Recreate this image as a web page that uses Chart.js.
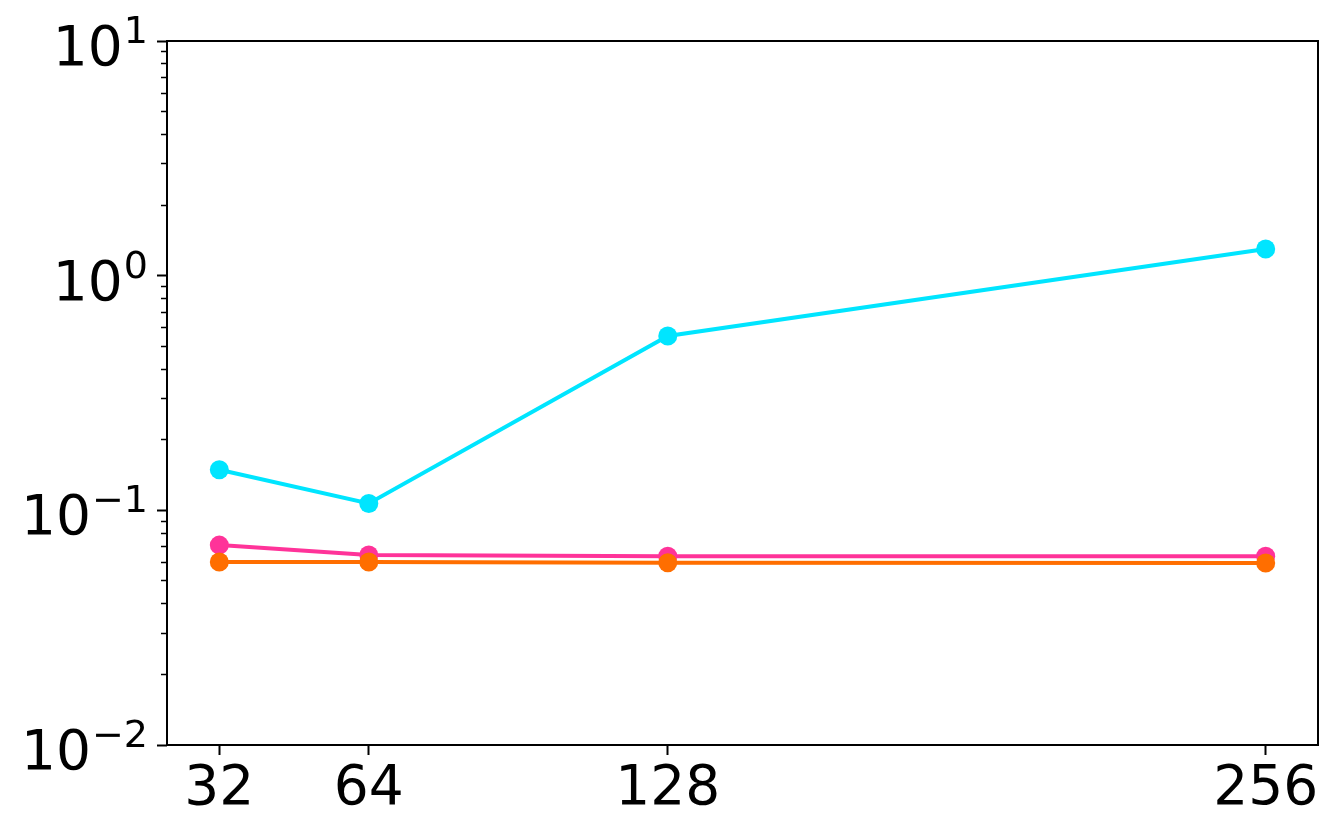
<!DOCTYPE html>
<html>
<head>
<meta charset="utf-8">
<script src="https://cdn.jsdelivr.net/npm/chart.js@4/dist/chart.umd.min.js"></script>
<style>
  html, body { margin: 0; padding: 0; background: #fff; }
  #wrap { width: 1339px; height: 839px; }
</style>
</head>
<body>
<div id="wrap"><canvas id="myChart"></canvas></div>
<script>
var xValues = [32, 64, 128, 256];
var cyanValues = [0.149, 0.107, 0.553, 1.30];
var pinkValues = [0.0711, 0.0645, 0.0638, 0.0638];
var orangeValues = [0.0602, 0.0602, 0.0598, 0.0596];
var yMajorTicks = [0.01, 0.1, 1, 10];
var yTickExponents = ["\u22122", "\u22121", "0", "1"];

function points(vals) {
  return xValues.map(function (x, i) { return { x: x, y: vals[i] }; });
}

var minorTicks = [];
[0.01, 0.1, 1].forEach(function (d) {
  for (var k = 2; k <= 9; k++) minorTicks.push(+(d * k).toPrecision(3));
});

// frame round the plot area, like matplotlib spines
var frame = {
  id: "frame",
  afterDraw: function (chart) {
    var a = chart.chartArea, ctx = chart.ctx;
    ctx.save();
    ctx.strokeStyle = "#000";
    ctx.lineWidth = 2;
    ctx.strokeRect(a.left, a.top, a.right - a.left, a.bottom - a.top);
    ctx.restore();
  }
};

// y labels as 10 with a raised exponent
var powerLabels = {
  id: "powerLabels",
  afterDraw: function (chart) {
    var s = chart.scales.y, ctx = chart.ctx;
    var right = s.right - 19;
    ctx.save();
    ctx.fillStyle = "#000";
    ctx.textAlign = "right";
    ctx.textBaseline = "alphabetic";
    yMajorTicks.forEach(function (v, i) {
      var py = s.getPixelForValue(v);
      ctx.font = "38px 'DejaVu Sans'";
      ctx.fillText(yTickExponents[i], right, py + 2);
      var w = ctx.measureText(yTickExponents[i]).width;
      ctx.font = "55px 'DejaVu Sans'";
      ctx.fillText("10", right - w - 1, py + 24);
    });
    ctx.restore();
  }
};

function line(vals, color, order) {
  return {
    data: points(vals),
    borderColor: color,
    backgroundColor: color,
    borderWidth: 4,
    pointRadius: 9.5,
    pointBorderWidth: 0,
    pointHoverRadius: 9.5,
    order: order
  };
}

Chart.defaults.font.family = "DejaVu Sans";

new Chart("myChart", {
  type: "line",
  data: {
    datasets: [
      line(cyanValues, "#00E5FF", 3),
      line(pinkValues, "#FF3399", 2),
      line(orangeValues, "#FF6E00", 1)
    ]
  },
  plugins: [frame, powerLabels],
  options: {
    responsive: true,
    maintainAspectRatio: false,
    animation: false,
    layout: { padding: { left: 0, top: 41, right: 21, bottom: 0 } },
    plugins: { legend: { display: false }, tooltip: { enabled: false } },
    scales: {
      x: {
        type: "linear",
        min: 20.8,
        max: 267.2,
        afterBuildTicks: function (s) { s.ticks = xValues.map(function (v) { return { value: v }; }); },
        afterFit: function (s) { s.height = 94; },
        grid: { drawOnChartArea: false, tickLength: 10, tickWidth: 2, tickColor: "#000" },
        border: { display: false },
        ticks: { color: "#000", font: { size: 55 }, padding: 2, maxRotation: 0 }
      },
      y: {
        type: "logarithmic",
        position: "left",
        min: 0.01,
        max: 10,
        weight: 1,
        afterBuildTicks: function (s) { s.ticks = yMajorTicks.map(function (v) { return { value: v }; }); },
        afterFit: function (s) { s.width = 167; },
        grid: { drawOnChartArea: false, tickLength: 10, tickWidth: 2, tickColor: "#000" },
        border: { display: false },
        ticks: { display: false }
      },
      yMinor: {
        type: "logarithmic",
        position: "left",
        min: 0.01,
        max: 10,
        weight: 0,
        afterBuildTicks: function (s) { s.ticks = minorTicks.map(function (v) { return { value: v }; }); },
        afterFit: function (s) { s.width = 0; },
        grid: { drawOnChartArea: false, tickLength: 6, tickWidth: 1.5, tickColor: "#000" },
        border: { display: false },
        ticks: { display: false }
      }
    }
  }
});
</script>
</body>
</html>
